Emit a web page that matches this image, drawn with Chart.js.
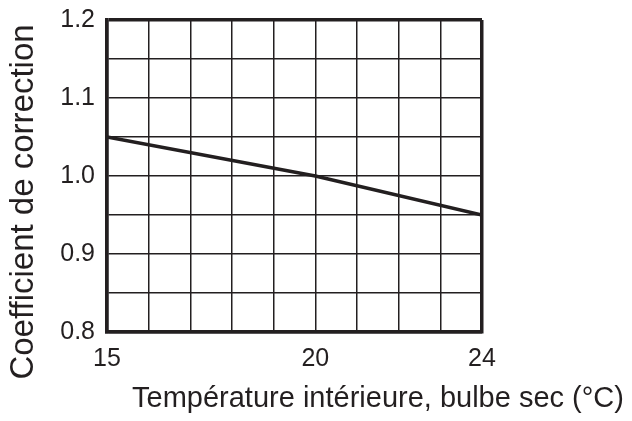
<!DOCTYPE html>
<html>
<head>
<meta charset="utf-8">
<script src="https://cdn.jsdelivr.net/npm/chart.js@4"></script>
<style>
  html, body { margin: 0; padding: 0; background: #fff; }
  #wrap { width: 632px; height: 421px; position: relative; }
</style>
</head>
<body>
<div id="wrap"><canvas id="chart"></canvas></div>
<script>
// valeurs
const temperatures = [15, 20, 24];
const coefficients = [1.05, 1.00, 0.95];
const xLabels = [15, 20, 24];
const yLabels = [0.8, 0.9, 1.0, 1.1, 1.2];
const xTitle = 'Température intérieure, bulbe sec (°C)';
const yTitle = 'Coefficient de correction';

const ink = '#231f20';
const font = 'Liberation Sans';

// titres d'axes placés comme sur l'original (décalés par rapport à la zone)
const axisTitles = {
    id: 'axisTitles',
    afterDraw(chart) {
        const ctx = chart.ctx;
        ctx.save();
        ctx.fillStyle = ink;
        ctx.textAlign = 'center';
        ctx.textBaseline = 'middle';
        ctx.font = '29px "' + font + '"';
        ctx.fillText(xTitle, 378, 399);
        ctx.font = '33px "' + font + '"';
        ctx.translate(24, 202);
        ctx.rotate(-Math.PI / 2);
        ctx.fillText(yTitle, 0, 0);
        ctx.restore();
    }
};

function edgeWidth(ctx, count) {
    return (ctx.index === 0 || ctx.index === count - 1) ? 3.5 : 1.5;
}

new Chart(document.getElementById('chart'), {
    type: 'line',
    data: {
        datasets: [{
            data: temperatures.map((t, i) => ({ x: t, y: coefficients[i] })),
            borderColor: ink,
            borderWidth: 3.5,
            pointRadius: 0,
            tension: 0,
            fill: false
        }]
    },
    options: {
        responsive: true,
        maintainAspectRatio: false,
        animation: false,
        layout: { padding: { top: 20, right: 150, left: 0, bottom: 0 } },
        plugins: {
            legend: { display: false },
            tooltip: { enabled: false }
        },
        scales: {
            x: {
                type: 'linear',
                min: 15,
                max: 24,
                afterFit(scale) {
                    scale.height = 89;
                    scale.paddingLeft = 0;
                    scale.paddingRight = 0;
                },
                ticks: {
                    stepSize: 1,
                    autoSkip: false,
                    maxRotation: 0,
                    padding: 12,
                    color: ink,
                    font: { family: font, size: 25 },
                    callback: v => xLabels.includes(v) ? String(v) : ''
                },
                grid: {
                    color: ink,
                    drawTicks: false,
                    lineWidth: ctx => edgeWidth(ctx, 10)
                },
                border: { color: ink, width: 3.5 }
            },
            y: {
                min: 0.8,
                max: 1.2,
                afterFit(scale) {
                    scale.width = 107;
                    scale.paddingTop = 0;
                    scale.paddingBottom = 0;
                },
                ticks: {
                    stepSize: 0.05,
                    autoSkip: false,
                    padding: 12,
                    color: ink,
                    font: { family: font, size: 25 },
                    callback: v => {
                        const hit = yLabels.find(l => Math.abs(l - v) < 1e-6);
                        return hit !== undefined ? hit.toFixed(1) : '';
                    }
                },
                grid: {
                    color: ink,
                    drawTicks: false,
                    lineWidth: ctx => edgeWidth(ctx, 9)
                },
                border: { color: ink, width: 3.5 }
            }
        }
    },
    plugins: [axisTitles]
});
</script>
</body>
</html>
